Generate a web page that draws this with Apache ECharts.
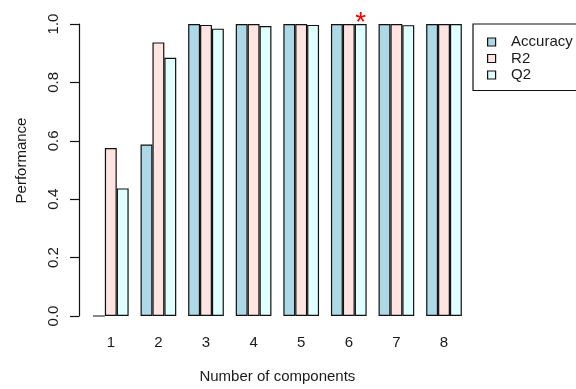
<!DOCTYPE html>
<html>
<head>
<meta charset="utf-8">
<script src="https://cdn.jsdelivr.net/npm/echarts@6/dist/echarts.min.js"></script>
<style>html,body{margin:0;padding:0;background:#fff;}#c{width:576px;height:389px;}</style>
</head>
<body>
<div id="c"></div>
<script>
const categories = ['1', '2', '3', '4', '5', '6', '7', '8'];
const accuracy = [0, 0.587, 1, 1, 1, 1, 1, 1];
const r2 = [0.575, 0.937, 0.997, 1, 1, 1, 1, 1];
const q2 = [0.437, 0.884, 0.984, 0.993, 0.997, 1, 0.996, 1];
const seriesNames = ['Accuracy', 'R2', 'Q2'];
const bestComponent = '6';
const bestValue = 1.0;
const xTitle = 'Number of components';
const yTitle = 'Performance';

const FONT = '"Liberation Sans", Arial, sans-serif';
const TXT = '#1a1a1a';
const colors = ['#ADD8E6', '#FFE4E1', '#E0FFFF'];
const chart = echarts.init(document.getElementById('c'), null, {renderer: 'canvas'});

function barSeries(name, data, color, extra) {
  return Object.assign({
    name: name,
    type: 'bar',
    data: data,
    barWidth: 11.9,
    barGap: '0%',
    itemStyle: {color: color, borderColor: '#111', borderWidth: 1.2},
    emphasis: {disabled: true},
    animation: false
  }, extra || {});
}

chart.setOption({
  animation: false,
  textStyle: {fontFamily: FONT},
  grid: {left: 87, right: 108.2, top: 24, bottom: 70, containLabel: false},
  legend: {
    orient: 'vertical',
    left: 473,
    top: 24,
    icon: 'rect',
    itemWidth: 8,
    itemHeight: 8,
    itemGap: 0.5,
    padding: [10, 30, 7.5, 14],
    borderColor: '#111',
    borderWidth: 1.2,
    selectedMode: false,
    itemStyle: {borderColor: '#111', borderWidth: 1.2},
    textStyle: {fontFamily: FONT, fontSize: 15, color: TXT, lineHeight: 16, padding: [0, 0, 0, 10.5]},
    data: seriesNames
  },
  xAxis: {
    type: 'category',
    data: categories,
    axisLine: {show: false},
    axisTick: {show: false},
    axisLabel: {fontFamily: FONT, fontSize: 15, color: TXT, margin: 19},
    name: xTitle,
    nameLocation: 'middle',
    nameGap: 53,
    nameTextStyle: {fontFamily: FONT, fontSize: 15, color: TXT}
  },
  yAxis: {
    type: 'value',
    min: 0,
    max: 1,
    interval: 0.2,
    offset: 8,
    axisLine: {show: true, lineStyle: {color: '#111', width: 1.2}},
    axisTick: {show: true, length: 9, lineStyle: {color: '#111', width: 1.2}},
    splitLine: {show: false},
    axisLabel: {fontFamily: FONT, fontSize: 15, color: TXT, rotate: 90, margin: 17.5,
      formatter: function (v) { return v.toFixed(1); }},
    name: yTitle,
    nameLocation: 'middle',
    nameGap: 50,
    nameTextStyle: {fontFamily: FONT, fontSize: 15, color: TXT, padding: [0, 0, 0, 19]}
  },
  series: [
    barSeries(seriesNames[0], accuracy, colors[0]),
    barSeries(seriesNames[1], r2, colors[1]),
    barSeries(seriesNames[2], q2, colors[2], {
      markPoint: {
        silent: true,
        symbol: 'circle',
        symbolSize: 1,
        itemStyle: {color: 'rgba(0,0,0,0)', borderWidth: 0},
        label: {show: true, position: 'inside', formatter: '*', color: '#ff0000',
          fontSize: 28, fontFamily: FONT, offset: [0, -0.5]},
        data: [{coord: [bestComponent, bestValue]}]
      }
    })
  ]
});
</script>
</body>
</html>
